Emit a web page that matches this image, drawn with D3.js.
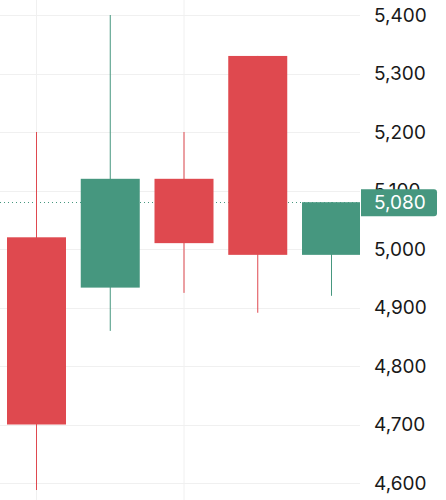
<!DOCTYPE html>
<html>
<head>
<meta charset="utf-8">
<script src="https://cdn.jsdelivr.net/npm/d3@7"></script>
<style>
  body { margin: 0; background: #fff; }
  svg { display: block; font-family: Inter, "Noto Sans", sans-serif; }
</style>
</head>
<body>
<svg id="chart"></svg>
<script>
// Candle data
var days = ["D1", "D2", "D3", "D4", "D5"];
var opens = [5020, 4934, 5120, 5330, 4990];
var highs = [5200, 5400, 5200, 5330, 5080];
var lows = [4588, 4860, 4925, 4891, 4920];
var closes = [4700, 5120, 5010, 4990, 5080];
var yTicks = [4600, 4700, 4800, 4900, 5000, 5100, 5200, 5300, 5400];
var gridDays = ["D1", "D3"];
var lastPrice = 5080;

var width = 446, height = 500;
var plotRight = 360;
var upColor = "#46977f", downColor = "#df494f";

var data = days.map(function (d, i) {
  return { day: d, open: opens[i], high: highs[i], low: lows[i], close: closes[i] };
});

var svg = d3.select("#chart").attr("width", width).attr("height", height);

var x = d3.scalePoint().domain(days).range([36.5, 331.5]);
var y = d3.scaleLinear().domain([4600, 5400]).range([483, 15]);
var candleW = 59;

svg.append("defs").append("clipPath").attr("id", "plot")
  .append("rect").attr("x", 0).attr("y", 0).attr("width", plotRight).attr("height", height);

var plot = svg.append("g").attr("clip-path", "url(#plot)");

// grid
plot.selectAll(".hgrid")
  .data(yTicks)
  .enter().append("line")
  .attr("x1", 0).attr("x2", plotRight)
  .attr("y1", function (d) { return Math.round(y(d)) + 0.5; })
  .attr("y2", function (d) { return Math.round(y(d)) + 0.5; })
  .style("stroke", "#f0f0f0");

plot.selectAll(".vgrid")
  .data(gridDays)
  .enter().append("line")
  .attr("x1", function (d) { return x(d); })
  .attr("x2", function (d) { return x(d); })
  .attr("y1", 0).attr("y2", height)
  .style("stroke", "#f0f0f0");

// last price line
plot.append("line")
  .attr("x1", 0).attr("x2", plotRight)
  .attr("y1", Math.round(y(lastPrice)) + 0.5)
  .attr("y2", Math.round(y(lastPrice)) + 0.5)
  .style("stroke", upColor)
  .style("stroke-dasharray", "1,3");

// wicks
plot.selectAll(".wick")
  .data(data)
  .enter().append("line")
  .attr("x1", function (d) { return x(d.day); })
  .attr("x2", function (d) { return x(d.day); })
  .attr("y1", function (d) { return y(d.high); })
  .attr("y2", function (d) { return y(d.low); })
  .style("stroke", function (d) { return d.close >= d.open ? upColor : downColor; })
  .style("stroke-width", 1);

// bodies
plot.selectAll(".body")
  .data(data)
  .enter().append("rect")
  .attr("x", function (d) { return x(d.day) - candleW / 2; })
  .attr("width", candleW)
  .attr("y", function (d) { return y(Math.max(d.open, d.close)); })
  .attr("height", function (d) { return Math.abs(y(d.open) - y(d.close)); })
  .style("fill", function (d) { return d.close >= d.open ? upColor : downColor; });

// right axis
var axis = svg.append("g")
  .attr("transform", "translate(" + plotRight + ",0)")
  .call(d3.axisRight(y).tickValues(yTicks).tickFormat(d3.format(",")).tickSize(0).tickPadding(14));
axis.select(".domain").remove();
axis.selectAll("text")
  .style("font-size", "19px")
  .style("fill", "#191919")
  .style("font-family", "Inter, 'Noto Sans', sans-serif");

// last price label
var ly = y(lastPrice);
var lab = svg.append("g");
lab.append("path")
  .attr("d", "M" + (plotRight + 1) + "," + (ly - 13) +
    " H" + (437 - 3) + " Q437," + (ly - 13) + " 437," + (ly - 10) +
    " V" + (ly + 11) + " Q437," + (ly + 14) + " " + (437 - 3) + "," + (ly + 14) +
    " H" + (plotRight + 1) + " Z")
  .style("fill", upColor);
lab.append("text")
  .attr("x", 374)
  .attr("y", ly)
  .attr("dy", "0.35em")
  .style("font-size", "19px")
  .style("fill", "#fff")
  .text(d3.format(",")(lastPrice));
</script>
</body>
</html>
